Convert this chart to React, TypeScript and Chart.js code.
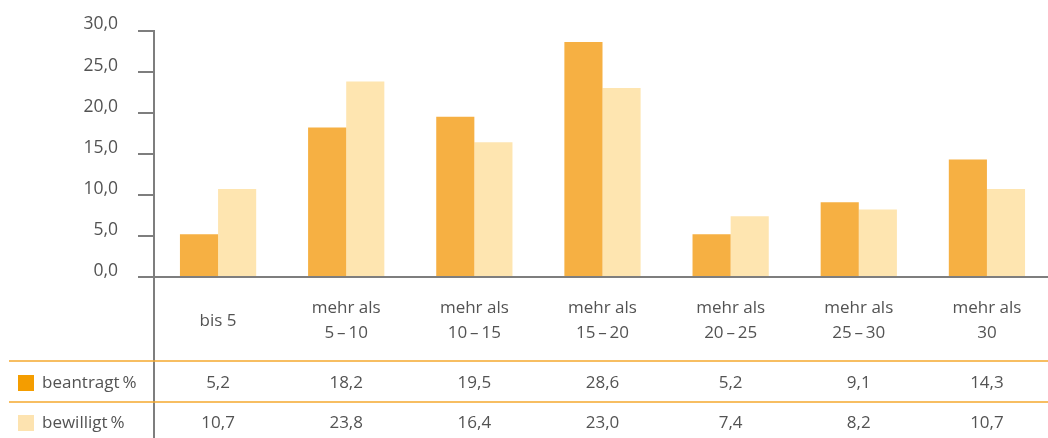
import React, { useEffect, useRef } from 'react';
import { Chart, registerables } from 'chart.js';

Chart.register(...registerables);

// ---- data ----
const categories: string[][] = [
  ['bis 5'],
  ['mehr als', '5\u2009\u2013\u200910'],
  ['mehr als', '10\u2009\u2013\u200915'],
  ['mehr als', '15\u2009\u2013\u200920'],
  ['mehr als', '20\u2009\u2013\u200925'],
  ['mehr als', '25\u2009\u2013\u200930'],
  ['mehr als', '30'],
];
const beantragt = [5.2, 18.2, 19.5, 28.6, 5.2, 9.1, 14.3];
const bewilligt = [10.7, 23.8, 16.4, 23.0, 7.4, 8.2, 10.7];
const seriesNames = ['beantragt\u2009%', 'bewilligt\u2009%'];
const yMin = 0;
const yMax = 30;
const yStep = 5;

// ---- styles ----
const FONT = "'Open Sans', 'Noto Sans', sans-serif";
const TEXT = '#535353';
const GRAY = '#7e7e7e';
const BAR1 = '#F6B043';
const BAR2 = '#FEE5B0';
const SQ1 = '#F49D00';
const SQ2 = '#FDE3B0';
const TABLE_LINE = '#F5A82E';

const fmt = (v: number) => v.toFixed(1).replace('.', ',');

const tablePlugin = {
  id: 'dataTable',
  afterDraw(chart: any) {
    const { ctx, chartArea } = chart;
    const xs = chart.scales.x;
    const H = chart.height;
    const W = chart.width;
    ctx.save();
    // y-axis line extension through the table
    const ax = Math.round(chartArea.left);
    ctx.strokeStyle = GRAY;
    ctx.lineWidth = 2;
    ctx.beginPath();
    ctx.moveTo(ax, chartArea.bottom);
    ctx.lineTo(ax, H);
    ctx.stroke();

    // table rule lines
    ctx.strokeStyle = TABLE_LINE;
    ctx.lineWidth = 1.5;
    [361, 402].forEach((yy) => {
      ctx.beginPath();
      ctx.moveTo(9, yy);
      ctx.lineTo(W, yy);
      ctx.stroke();
    });

    ctx.fillStyle = TEXT;
    ctx.font = `17px ${FONT}`;
    ctx.textAlign = 'center';
    ctx.textBaseline = 'middle';
    // category labels
    categories.forEach((lines, i) => {
      const cx = xs.getPixelForValue(i);
      if (lines.length === 1) {
        ctx.fillText(lines[0], cx, 321);
      } else {
        ctx.fillText(lines[0], cx, 308.5);
        ctx.fillText(lines[1], cx, 333);
      }
    });
    // values
    const rows = [beantragt, bewilligt];
    const rowY = [383, 423];
    rows.forEach((arr, r) => {
      arr.forEach((v, i) => {
        ctx.fillText(fmt(v), xs.getPixelForValue(i), rowY[r]);
      });
    });
    // row headers
    const sq = [SQ1, SQ2];
    ctx.textAlign = 'left';
    seriesNames.forEach((name, r) => {
      ctx.fillStyle = sq[r];
      ctx.fillRect(18, rowY[r] - 8, 16, 16);
      ctx.fillStyle = TEXT;
      ctx.fillText(name, 42, rowY[r]);
    });
    ctx.restore();
  },
};

export default function App() {
  const ref = useRef<HTMLCanvasElement>(null);
  useEffect(() => {
    if (!ref.current) return;
    const chart = new Chart(ref.current, {
      type: 'bar',
      data: {
        labels: categories.map((c) => c.join(' ')),
        datasets: [
          {
            label: seriesNames[0],
            data: beantragt,
            backgroundColor: BAR1,
            borderWidth: 0,
            barPercentage: 1.0,
            categoryPercentage: 0.595,
          },
          {
            label: seriesNames[1],
            data: bewilligt,
            backgroundColor: BAR2,
            borderWidth: 0,
            barPercentage: 1.0,
            categoryPercentage: 0.595,
          },
        ],
      },
      options: {
        responsive: false,
        animation: false,
        layout: { padding: { left: 0, right: 1, top: 29, bottom: 0 } },
        plugins: {
          legend: { display: false },
          tooltip: { enabled: false },
        },
        scales: {
          x: {
            grid: { display: true, drawOnChartArea: false, drawTicks: false },
            border: { display: true, color: GRAY, width: 2 },
            ticks: { display: false },
            afterFit: (s: any) => {
              s.height = 161;
            },
          },
          y: {
            min: yMin,
            max: yMax,
            grid: {
              drawOnChartArea: false,
              drawTicks: true,
              tickLength: 16,
              color: GRAY,
              lineWidth: 2,
            },
            border: { display: true, color: GRAY, width: 2 },
            ticks: {
              stepSize: yStep,
              padding: 20,
              labelOffset: -6,
              color: TEXT,
              font: { family: FONT, size: 17.5 },
              callback: (v: any) => fmt(Number(v)),
            },
            afterFit: (s: any) => {
              s.width = 154;
            },
          },
        },
      },
      plugins: [tablePlugin],
    });
    return () => chart.destroy();
  }, []);

  return (
    <div
      style={{
        position: 'fixed',
        left: 0,
        top: 0,
        width: 1048,
        height: 438,
        overflow: 'hidden',
        background: '#fff',
      }}
    >
      <canvas ref={ref} width={1052} height={438} style={{ display: 'block' }} />
    </div>
  );
}
